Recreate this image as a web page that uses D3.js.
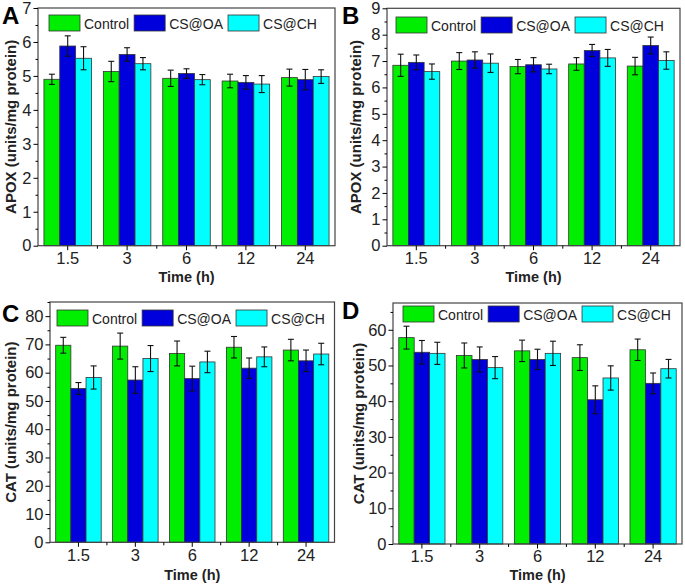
<!DOCTYPE html>
<html>
<head>
<meta charset="utf-8">
<script src="https://cdn.jsdelivr.net/npm/d3@7"></script>
<style>
  body { margin: 0; background: #fff; }
  svg { display: block; font-family: "Liberation Sans", Arial, sans-serif; }
</style>
</head>
<body>
<svg id="chart" width="685" height="587"></svg>
<script>
// categories + series
const times = ["1.5", "3", "6", "12", "24"];
const groups = ["Control", "CS@OA", "CS@CH"];
const colors = ["#00ee00", "#0000dd", "#00ffff"];

// panel A - APOX
const apoxA_control = [4.90, 5.13, 4.93, 4.85, 4.95];
const apoxA_controlErr = [0.15, 0.30, 0.24, 0.20, 0.25];
const apoxA_oa = [5.88, 5.63, 5.07, 4.81, 4.89];
const apoxA_oaErr = [0.30, 0.20, 0.14, 0.20, 0.30];
const apoxA_ch = [5.52, 5.36, 4.89, 4.76, 4.98];
const apoxA_chErr = [0.34, 0.18, 0.15, 0.25, 0.20];

// panel B - APOX
const apoxB_control = [6.84, 7.00, 6.79, 6.89, 6.81];
const apoxB_controlErr = [0.42, 0.32, 0.27, 0.24, 0.33];
const apoxB_oa = [6.95, 7.04, 6.86, 7.40, 7.59];
const apoxB_oaErr = [0.28, 0.31, 0.27, 0.23, 0.32];
const apoxB_ch = [6.60, 6.92, 6.70, 7.12, 7.02];
const apoxB_chErr = [0.29, 0.35, 0.18, 0.32, 0.33];

// panel C - CAT
const catC_control = [69.7, 69.4, 66.8, 69.0, 68.0];
const catC_controlErr = [2.8, 4.6, 4.4, 3.8, 3.8];
const catC_oa = [54.4, 57.4, 57.9, 61.6, 64.2];
const catC_oaErr = [2.1, 4.7, 4.4, 3.6, 3.8];
const catC_ch = [58.3, 65.0, 63.8, 65.6, 66.6];
const catC_chErr = [4.1, 4.6, 3.8, 3.5, 3.8];

// panel D - CAT
const catD_control = [57.8, 52.8, 54.1, 52.2, 54.4];
const catD_controlErr = [3.2, 3.5, 3.0, 3.6, 3.0];
const catD_oa = [53.7, 51.7, 51.7, 40.4, 45.0];
const catD_oaErr = [3.3, 3.5, 2.85, 3.9, 2.9];
const catD_ch = [53.4, 49.4, 53.4, 46.5, 49.1];
const catD_chErr = [3.1, 3.1, 3.4, 3.4, 2.6];

const yTicksApoxA = d3.range(0, 8, 1);
const yTicksApoxB = d3.range(0, 10, 1);
const yTicksCatC = d3.range(0, 90, 10);
const yTicksCatD = d3.range(0, 70, 10);

const svg = d3.select("#chart");

const panels = [
  { letter: "A", title: "APOX (units/mg protein)", left: 38, right: 335, top: 8, bottom: 245.7,
    yMax: 7, ticks: yTicksApoxA, minor: 0.5, means: [apoxA_control, apoxA_oa, apoxA_ch],
    errs: [apoxA_controlErr, apoxA_oaErr, apoxA_chErr], legX: 49, legY: 15,
    letterX: 2, letterY: 24, titleX: 16, xTitleY: 282 },
  { letter: "B", title: "APOX (units/mg protein)", left: 387, right: 680, top: 8.3, bottom: 245.7,
    yMax: 9, ticks: yTicksApoxB, minor: 0.5, means: [apoxB_control, apoxB_oa, apoxB_ch],
    errs: [apoxB_controlErr, apoxB_oaErr, apoxB_chErr], legX: 396, legY: 17,
    letterX: 342, letterY: 24, titleX: 361, xTitleY: 282 },
  { letter: "C", title: "CAT (units/mg protein)", left: 50, right: 334.5, top: 302, bottom: 542.3,
    yMax: 85, ticks: yTicksCatC, minor: 5, means: [catC_control, catC_oa, catC_ch],
    errs: [catC_controlErr, catC_oaErr, catC_chErr], legX: 57, legY: 310,
    letterX: 2, letterY: 322, titleX: 16, xTitleY: 580 },
  { letter: "D", title: "CAT (units/mg protein)", left: 393, right: 682, top: 303, bottom: 544,
    yMax: 67.5, ticks: yTicksCatD, minor: 5, means: [catD_control, catD_oa, catD_ch],
    errs: [catD_controlErr, catD_oaErr, catD_chErr], legX: 403, legY: 306,
    letterX: 342, letterY: 319, titleX: 364, xTitleY: 580 }
];

panels.forEach(p => {
  const g = svg.append("g");
  const x = d3.scaleBand().domain(times).range([p.left, p.right]).paddingInner(0.2).paddingOuter(0.1);
  const xs = d3.scaleBand().domain(groups).range([0, x.bandwidth()]);
  const y = d3.scaleLinear().domain([0, p.yMax]).range([p.bottom, p.top]);

  // bars
  groups.forEach((s, si) => {
    const rows = times.map((t, i) => ({ t: t, v: p.means[si][i], e: p.errs[si][i] }));
    g.append("g").selectAll("rect").data(rows).join("rect")
      .attr("x", d => x(d.t) + xs(s))
      .attr("y", d => y(d.v))
      .attr("width", xs.bandwidth())
      .attr("height", d => y(0) - y(d.v))
      .attr("fill", colors[si])
      .attr("stroke", "#333")
      .attr("stroke-width", 0.8);

    const eg = g.append("g").attr("stroke", "#111").attr("stroke-width", 1.1);
    rows.forEach(d => {
      const cx = x(d.t) + xs(s) + xs.bandwidth() / 2;
      eg.append("line").attr("x1", cx).attr("x2", cx).attr("y1", y(d.v + d.e)).attr("y2", y(d.v - d.e));
      eg.append("line").attr("x1", cx - 3).attr("x2", cx + 3).attr("y1", y(d.v + d.e)).attr("y2", y(d.v + d.e));
      eg.append("line").attr("x1", cx - 3).attr("x2", cx + 3).attr("y1", y(d.v - d.e)).attr("y2", y(d.v - d.e));
    });
  });

  // frame
  g.append("rect")
    .attr("x", p.left).attr("y", p.top)
    .attr("width", p.right - p.left).attr("height", p.bottom - p.top)
    .attr("fill", "none").attr("stroke", "#444").attr("stroke-width", 1.2);

  // y axis with minor ticks
  const minorTicks = d3.range(0, p.yMax + 0.001, p.minor).filter(v => !p.ticks.includes(v));
  g.append("g").attr("transform", `translate(${p.left},0)`)
    .call(d3.axisLeft(y).tickValues(minorTicks).tickSize(2.5).tickFormat(""))
    .call(a => a.select(".domain").remove());
  const yAx = g.append("g").attr("transform", `translate(${p.left},0)`)
    .call(d3.axisLeft(y).tickValues(p.ticks).tickSize(4.5).tickPadding(2).tickFormat(d3.format("d")));
  yAx.select(".domain").remove();
  yAx.selectAll("text").attr("font-size", 16.5).attr("fill", "#222");

  // x axis: major at centers, minor between groups
  const xAx = g.append("g").attr("transform", `translate(0,${p.bottom})`)
    .call(d3.axisBottom(x).tickSize(4.5).tickPadding(2));
  xAx.select(".domain").remove();
  xAx.selectAll("text").attr("font-size", 16.5).attr("fill", "#222");
  const between = times.slice(1).map(t => x(t) - x.step() * x.paddingInner() / 2);
  g.append("g").selectAll("line").data(between).join("line")
    .attr("x1", d => d).attr("x2", d => d)
    .attr("y1", p.bottom).attr("y2", p.bottom + 3)
    .attr("stroke", "#000");

  // titles
  g.append("text")
    .attr("transform", `translate(${p.titleX},${(p.top + p.bottom) / 2}) rotate(-90)`)
    .attr("text-anchor", "middle")
    .attr("font-weight", "bold").attr("font-size", 15).attr("fill", "#222")
    .text(p.title);
  g.append("text")
    .attr("x", (p.left + p.right) / 2).attr("y", p.xTitleY)
    .attr("text-anchor", "middle")
    .attr("font-weight", "bold").attr("font-size", 14.5).attr("fill", "#222")
    .text("Time (h)");
  g.append("text")
    .attr("x", p.letterX).attr("y", p.letterY)
    .attr("font-weight", "bold").attr("font-size", 24).attr("fill", "#000")
    .text(p.letter);

  // legend
  let lx = p.legX;
  groups.forEach((s, si) => {
    g.append("rect")
      .attr("x", lx).attr("y", p.legY).attr("width", 31).attr("height", 16)
      .attr("fill", colors[si]).attr("stroke", "#333").attr("stroke-width", 0.8);
    const t = g.append("text")
      .attr("x", lx + 35).attr("y", p.legY + 13.5)
      .attr("font-size", 14).attr("fill", "#222")
      .text(s);
    lx = lx + 35 + t.node().getComputedTextLength() + 5;
  });
});
</script>
</body>
</html>
